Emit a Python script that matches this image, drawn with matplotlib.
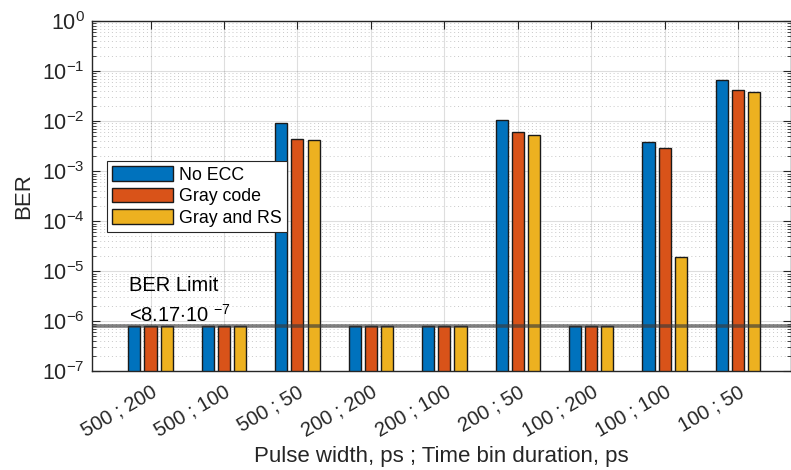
import matplotlib
matplotlib.use("Agg")
import matplotlib.pyplot as plt
import matplotlib.transforms as mtransforms
import numpy as np
from matplotlib.ticker import LogLocator, NullFormatter, FixedLocator

plt.rcParams['font.family'] = ['Liberation Sans', 'DejaVu Sans']
plt.rcParams['mathtext.fontset'] = 'custom'
plt.rcParams['mathtext.rm'] = 'Liberation Sans'
plt.rcParams['mathtext.it'] = 'Liberation Sans:italic'
plt.rcParams['mathtext.bf'] = 'Liberation Sans:bold'

categories = ['500 ; 200', '500 ; 100', '500 ; 50', '200 ; 200', '200 ; 100',
              '200 ; 50', '100 ; 200', '100 ; 100', '100 ; 50']
no_ecc = [8.17e-7, 8.17e-7, 9.0e-3, 8.17e-7, 8.17e-7, 1.05e-2, 8.17e-7, 3.8e-3, 6.8e-2]
gray_code = [8.17e-7, 8.17e-7, 4.5e-3, 8.17e-7, 8.17e-7, 6.1e-3, 8.17e-7, 2.9e-3, 4.3e-2]
gray_rs = [8.17e-7, 8.17e-7, 4.3e-3, 8.17e-7, 8.17e-7, 5.2e-3, 8.17e-7, 1.9e-5, 3.8e-2]
series_names = ['No ECC', 'Gray code', 'Gray and RS']
colors = ['#0072BD', '#D95319', '#EDB120']
ber_limit = 8.17e-7
y_exponents = [-7, -6, -5, -4, -3, -2, -1, 0]

fig = plt.figure(figsize=(7.91, 4.70), dpi=100)
ax = fig.add_axes([0.116, 0.210, 0.884, 0.745])

x = np.arange(1, len(categories) + 1)
offsets = [-0.22, 0.0, 0.22]
for vals, off, c, name in zip([no_ecc, gray_code, gray_rs], offsets, colors, series_names):
    ax.bar(x + off, np.array(vals) - 1e-9, width=0.165, bottom=1e-9, color=c,
           edgecolor='#1a1a1a', linewidth=1.0, label=name, zorder=2)

ax.axhline(ber_limit, color='#3a3a3a', linewidth=2.6, alpha=0.65, zorder=3)

ax.set_yscale('log')
ax.set_ylim(1e-7, 1)
ax.set_xlim(0.2, 9.72)
ax.set_xticks(x)
ax.set_xticklabels(categories, rotation=30, ha='right', va='top', rotation_mode='anchor',
                   fontsize=14.5, color='#262626')
shift = mtransforms.ScaledTranslation(7 / 100, 0, fig.dpi_scale_trans)
for lbl in ax.get_xticklabels():
    lbl.set_transform(lbl.get_transform() + shift)

ax.yaxis.set_major_locator(FixedLocator([10.0 ** k for k in y_exponents]))
ax.yaxis.set_minor_locator(LogLocator(base=10, subs=np.arange(2, 10), numticks=20))
ax.yaxis.set_minor_formatter(NullFormatter())
ylabels = ['$10^{%d}$' % k for k in y_exponents]
ax.set_yticklabels(ylabels, fontsize=15.5, color='#262626')

ax.set_axisbelow(True)
ax.grid(True, which='major', color='#262626', alpha=0.15, linewidth=0.8)
ax.grid(True, which='minor', axis='y', color='#262626', alpha=0.25, linestyle=(0, (1, 3)), linewidth=0.7)

ax.tick_params(axis='both', which='both', direction='in', top=True, right=True, colors='#262626')
ax.tick_params(axis='both', which='major', length=6, width=0.8)
ax.tick_params(axis='y', which='minor', length=3, width=0.6)
ax.tick_params(axis='x', which='major', pad=8)
ax.tick_params(axis='y', which='major', pad=5)
for s in ax.spines.values():
    s.set_color('#262626')
    s.set_linewidth(1.0)

ax.set_xlabel('Pulse width, ps ; Time bin duration, ps', fontsize=16, color='#262626', labelpad=4)
ax.set_ylabel('BER', fontsize=16, color='#262626')
ax.yaxis.set_label_coords(-0.082, 0.5)

ax.text(0.707, 5.3e-6, 'BER Limit', fontsize=14.5, color='black', va='center', ha='left')
ax.text(0.707, 1.35e-6, '<8.17$\\mathbf{\\cdot}$10 $^{-7}$', fontsize=14.5, color='black',
        va='center', ha='left')

leg = ax.legend(loc='upper left', bbox_to_anchor=(0.0219, 0.601), borderaxespad=0,
                fontsize=12.8, handlelength=3.4, handleheight=0.9, labelspacing=0.22,
                handletextpad=0.35, borderpad=0.3, fancybox=False, framealpha=1,
                edgecolor='#262626')
leg.get_frame().set_linewidth(0.8)

fig.savefig('out.png', dpi=100)
